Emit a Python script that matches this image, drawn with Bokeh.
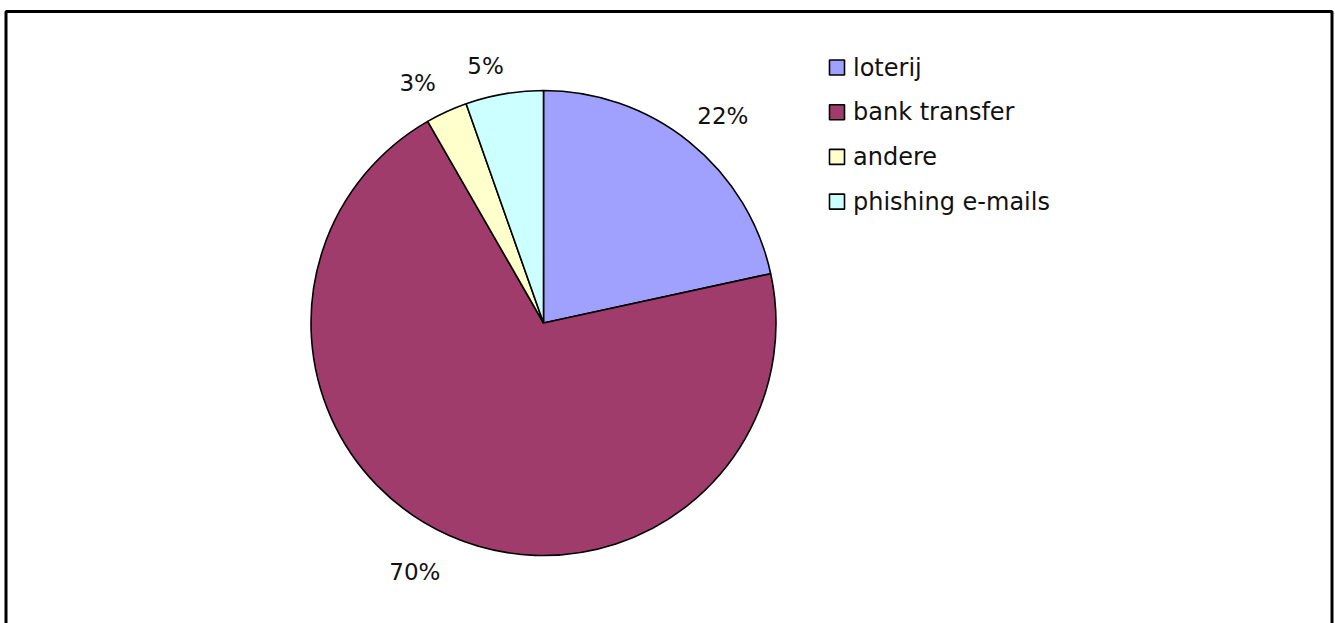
import math
from bokeh.plotting import figure
from bokeh.models import Range1d, ColumnDataSource
from bokeh.core.properties import value
from bokeh.embed import file_html
from bokeh.resources import INLINE

# ---- data ----
categories = ["loterij", "bank transfer", "andere", "phishing e-mails"]
shares = [21.6, 70.1, 2.9, 5.4]
pct_labels = ["22%", "70%", "3%", "5%"]
colors = ["#A0A0FF", "#A03C6C", "#FFFFCC", "#CCFFFF"]

W, H = 1335, 623
FONT = "DejaVu Sans"

p = figure(width=W, height=H, output_backend="svg", toolbar_location=None,
           x_range=Range1d(0, W), y_range=Range1d(0, H), min_border=0)
p.axis.visible = False
p.grid.visible = False
p.outline_line_color = None
p.background_fill_color = "white"
p.border_fill_color = "white"

# pie geometry (pixel-like units, y up)
cx, cy, r = 543, H - 322.5, 232.5
total = sum(shares)
starts, ends, mids = [], [], []
a = math.pi / 2
for s in shares:
    sweep = s / total * 2 * math.pi
    # clockwise from 12 o'clock
    ends.append(a)
    starts.append(a - sweep)
    mids.append(a - sweep / 2)
    a -= sweep

src = ColumnDataSource(dict(start=starts, end=ends, color=colors, cat=categories))
p.wedge(x=cx, y=cy, radius=r, start_angle="start", end_angle="end",
        direction="anticlock", fill_color="color", line_color="black",
        line_width=1.6, source=src)

# label placement (Excel best-fit): angle offsets and distances
label_shift = [math.radians(-2), math.radians(-3.4), math.radians(3), math.radians(3)]
label_dist = [274, 280, 271, 263]
lx = [cx + d * math.cos(m + sh) for m, sh, d in zip(mids, label_shift, label_dist)]
ly = [cy + d * math.sin(m + sh) for m, sh, d in zip(mids, label_shift, label_dist)]
p.text(x=lx, y=ly, text=pct_labels, text_font=value(FONT), text_font_size="23px",
       text_align="center", text_baseline="middle", text_color="#111111")

# legend
leg_x, leg_y0, leg_dy, sq = 836.5, H - 67, 44.7, 15
ly_leg = [leg_y0 - i * leg_dy for i in range(len(categories))]
p.rect(x=[leg_x] * len(categories), y=ly_leg, width=sq, height=sq,
       fill_color=colors, line_color="black", line_width=1.6)
p.text(x=[leg_x + 16] * len(categories), y=[v for v in ly_leg], text=categories,
       text_font=value(FONT), text_font_size="24px", text_align="left",
       text_baseline="middle", text_color="#111111")

# chart area border (bottom runs off the picture)
p.line(x=[5.5, 5.5, 1331.5, 1331.5], y=[-10, H - 11, H - 11, -10],
       line_color="black", line_width=3)

open("out.html", "w").write(file_html(p, INLINE))
